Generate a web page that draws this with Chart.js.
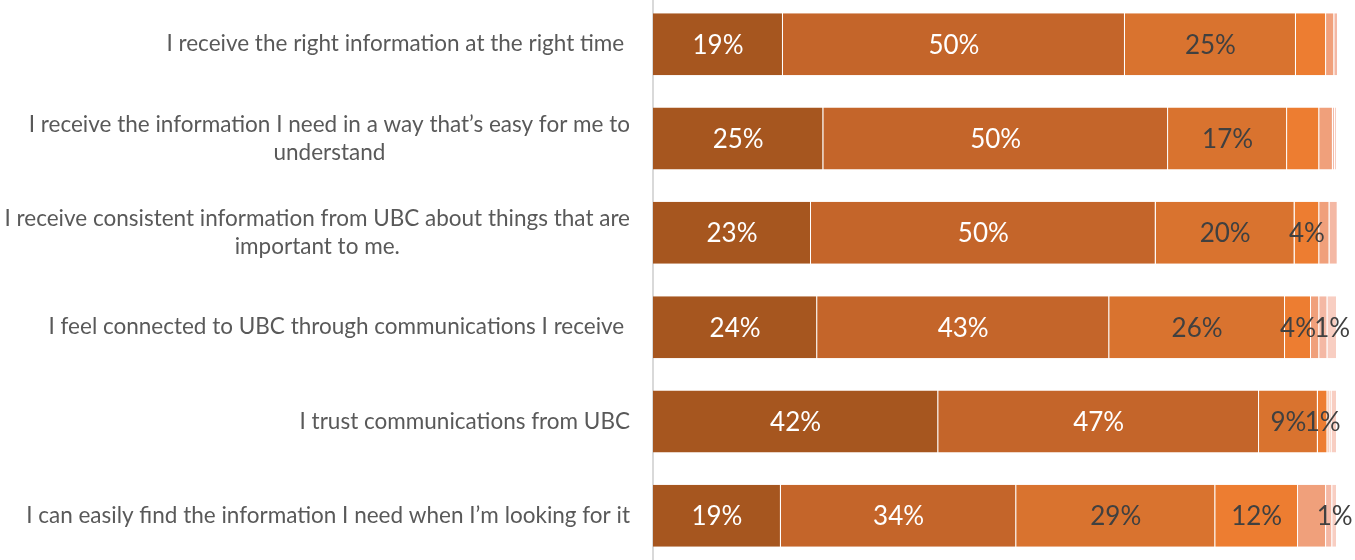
<!DOCTYPE html>
<html>
<head>
<meta charset="utf-8">
<script src="https://cdn.jsdelivr.net/npm/chart.js@4"></script>
<style>
    html, body { margin: 0; padding: 0; background: #fff; overflow: hidden; }
    #wrap { position: relative; top: -3px; width: 1355px; height: 566px; }
</style>
</head>
<body>
<div id="wrap"><canvas id="commsChart"></canvas></div>
<script>
// Survey statements (each entry = lines of the label)
const statements = [
    ['I receive the right information at the right time '],
    ['I receive the information I need in a way that\u2019s easy for me to', 'understand'],
    ['I receive consistent information from UBC about things that are', 'important to me.'],
    ['I feel connected to UBC through communications I receive '],
    ['I trust communications from UBC'],
    ['I can easily find the information I need when I\u2019m looking for it']
];

// Response shares (%), one array per response level, strongest first
const level1 = [19, 24.9, 23.1, 24, 41.7, 18.7];
const level2 = [50, 50.4, 50.4, 42.7, 46.9, 34.4];
const level3 = [25, 17.4, 20.3, 25.7, 8.6, 29.1];
const level4 = [4.4, 4.7, 3.6, 3.8, 1.4, 12.1];
const level5 = [1.2, 2.0, 1.5, 1.2, 0.3, 4.1];
const level6 = [1.2, 0.3, 1.2, 1.2, 0.3, 0.9];
const level7 = [0, 0.3, 0, 1.4, 0.8, 0.7];

// Rows whose segment carries a visible percentage label, per level
const labelledRows = [
    [0, 1, 2, 3, 4, 5],
    [0, 1, 2, 3, 4, 5],
    [0, 1, 2, 3, 4, 5],
    [2, 3, 4, 5],
    [],
    [],
    [3, 5]
];

const levelColors = ['#A6561F', '#C4652A', '#D9732F', '#ED7D31', '#F0A07B', '#F4B8A4', '#F8CEC2'];
const labelColors = ['#FFFFFF', '#FFFFFF', '#404040', '#404040', '#404040', '#404040', '#404040'];

const levels = [level1, level2, level3, level4, level5, level6, level7];

// Draws the percentage text centred in each labelled segment
const segmentLabels = {
    id: 'segmentLabels',
    afterDatasetsDraw(chart) {
        const ctx = chart.ctx;
        ctx.save();
        ctx.font = '26px Lato';
        ctx.textAlign = 'center';
        ctx.textBaseline = 'middle';
        chart.data.datasets.forEach((ds, di) => {
            const meta = chart.getDatasetMeta(di);
            labelledRows[di].forEach(row => {
                const bar = meta.data[row];
                if (!bar) return;
                const p = bar.getCenterPoint();
                ctx.fillStyle = labelColors[di];
                ctx.fillText(Math.round(ds.data[row]) + '%', p.x, p.y + 1);
            });
        });
        ctx.restore();
    }
};

// Draws the statement text: block right-aligned, lines centred within it
const statementLabels = {
    id: 'statementLabels',
    afterDraw(chart) {
        const ctx = chart.ctx;
        const yScale = chart.scales.y;
        const rightEdge = 630;
        const lineHeight = 28;
        ctx.save();
        ctx.font = '22.5px Lato';
        ctx.fillStyle = '#595959';
        ctx.textAlign = 'center';
        ctx.textBaseline = 'middle';
        statements.forEach((lines, i) => {
            const blockWidth = Math.max(...lines.map(l => ctx.measureText(l).width));
            const cx = rightEdge - blockWidth / 2;
            const cy = yScale.getPixelForValue(i);
            lines.forEach((line, j) => {
                ctx.fillText(line, cx, cy + (j - (lines.length - 1) / 2) * lineHeight);
            });
        });
        ctx.restore();
    }
};

const chartCanvas = document.getElementById('commsChart');
new Chart(chartCanvas.getContext('2d'), {
    type: 'bar',
    data: {
        labels: statements.map(s => s.join(' ')),
        datasets: levels.map((vals, i) => ({
            label: 'Level ' + (i + 1),
            data: vals,
            backgroundColor: levelColors[i],
            borderColor: 'rgba(255, 255, 255, 0.35)',
            borderWidth: { right: 1 },
            borderSkipped: false,
            categoryPercentage: 0.658,
            barPercentage: 1
        }))
    },
    options: {
        indexAxis: 'y',
        responsive: true,
        maintainAspectRatio: false,
        animation: false,
        layout: { padding: { left: 653, right: 18, top: 0, bottom: 0 } },
        scales: {
            x: { stacked: true, min: 0, max: 100, display: false },
            y: {
                stacked: true,
                ticks: { display: false, padding: 0 },
                grid: { display: false, drawTicks: false },
                border: { display: true, color: '#D9D9D9', width: 2 }
            }
        },
        plugins: {
            legend: { display: false },
            tooltip: { enabled: false }
        }
    },
    plugins: [segmentLabels, statementLabels]
});
</script>
</body>
</html>
